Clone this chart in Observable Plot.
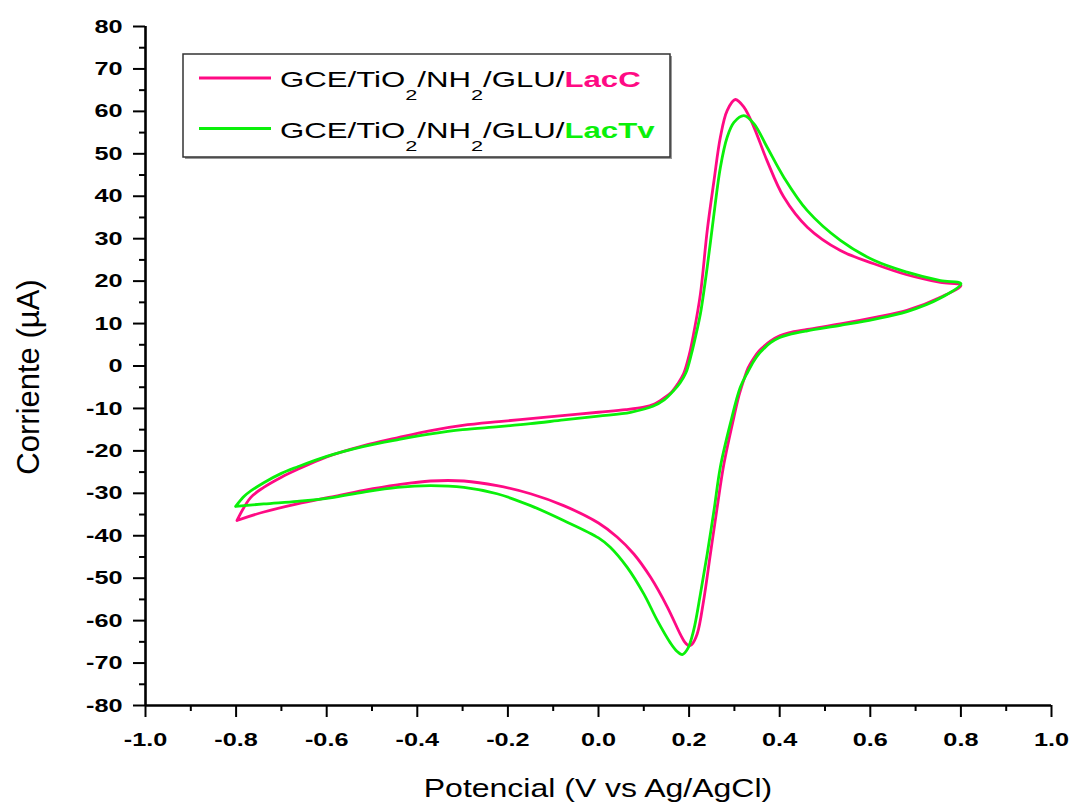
<!DOCTYPE html>
<html><head><meta charset="utf-8">
<script src="https://cdn.jsdelivr.net/npm/d3@7"></script>
<script src="https://cdn.jsdelivr.net/npm/@observablehq/plot@0.6"></script>
<style>
html,body{margin:0;padding:0;background:#fff;}
#chart{position:relative;width:1069px;height:804px;overflow:hidden;}
</style></head><body><div id="chart"></div>
<script>
// ---- data ----
const potLacC = [-0.798,-0.768,-0.739,-0.70,-0.665,-0.60,-0.52,-0.44,-0.37,-0.30,
  -0.22,-0.15,-0.08,0.0,0.06,0.10,0.122,0.145,0.16,0.175,
  0.188,0.20,0.21,0.225,0.24,0.255,0.269,0.284,0.302,0.321,
  0.343,0.372,0.409,0.461,0.534,0.608,0.681,0.755,0.80,
  0.755,0.681,0.608,0.534,0.461,0.42,0.40,0.38,0.365,0.355,
  0.343,0.33,0.321,0.31,0.299,0.277,0.262,0.247,0.232,0.218,
  0.206,0.199,0.19,0.181,0.152,0.115,0.078,0.041,0.0,-0.077,
  -0.15,-0.224,-0.297,-0.371,-0.444,-0.518,-0.592,-0.665,-0.739,-0.798];
const curLacC = [-36.4,-31.0,-28.6,-26.2,-24.4,-21.4,-18.8,-16.8,-15.2,-14.0,
  -13.1,-12.4,-11.7,-10.9,-10.3,-9.7,-9.0,-7.5,-6.3,-4.2,
  -1.8,2.5,7.6,17.0,31.9,43.7,53.9,60.2,62.8,61.0,
  56.3,48.4,39.8,32.7,27.2,24.1,21.5,19.7,19.0,
  16.2,13.1,11.4,9.9,8.6,7.8,7.1,5.9,4.6,3.6,
  1.9,-0.5,-3.2,-7.0,-12.0,-23.0,-33.3,-44.3,-55.3,-63.1,
  -65.6,-65.9,-65.0,-63.3,-56.8,-49.8,-44.3,-40.3,-37.0,-32.9,
  -30.1,-28.2,-27.1,-27.1,-28.0,-29.3,-30.9,-32.5,-34.4,-36.4];
const potLacTv = [-0.801,-0.785,-0.776,-0.739,-0.70,-0.665,-0.60,-0.52,-0.44,-0.37,
  -0.30,-0.22,-0.15,-0.077,0.0,0.071,0.12,0.145,0.166,0.18,
  0.193,0.205,0.216,0.225,0.24,0.255,0.269,0.284,0.299,0.321,
  0.343,0.372,0.409,0.461,0.534,0.608,0.681,0.755,0.80,
  0.755,0.681,0.608,0.534,0.461,0.42,0.40,0.38,0.365,0.355,
  0.343,0.33,0.313,0.291,0.269,0.255,0.24,0.225,0.21,0.197,
  0.185,0.173,0.159,0.13,0.10,0.063,0.026,0.0,-0.077,-0.15,
  -0.224,-0.297,-0.371,-0.444,-0.518,-0.592,-0.665,-0.739,-0.801];
const curLacTv = [-33.1,-31.0,-30.1,-27.5,-25.3,-23.8,-21.3,-19.0,-17.3,-16.0,
  -15.0,-14.3,-13.6,-12.7,-11.8,-10.9,-9.5,-8.0,-5.8,-4.0,
  -1.6,2.8,7.8,12.3,23.3,35.9,46.8,53.9,57.4,59.0,
  57.1,51.6,44.5,36.6,29.6,24.9,22.1,20.1,19.4,
  16.0,12.8,11.0,9.6,8.3,7.4,6.7,5.5,4.1,3.0,
  1.2,-1.3,-5.0,-13.6,-23.8,-34.0,-44.3,-53.7,-62.3,-66.6,
  -68.0,-67.2,-65.3,-60.0,-53.7,-47.4,-42.7,-40.5,-36.4,-32.9,
  -30.1,-28.6,-28.2,-28.6,-29.7,-31.1,-31.9,-32.5,-33.1];

const seriesNames = ["LacC", "LacTv"];
const seriesColors = ["#ff0a84", "#0af00a"];
const xTicks = [-1.0,-0.8,-0.6,-0.4,-0.2,0.0,0.2,0.4,0.6,0.8,1.0];
const xMinorTicks = [-0.9,-0.7,-0.5,-0.3,-0.1,0.1,0.3,0.5,0.7,0.9];
const yTicks = [-80,-70,-60,-50,-40,-30,-20,-10,0,10,20,30,40,50,60,70,80];
const yMinorTicks = [-75,-65,-55,-45,-35,-25,-15,-5,5,15,25,35,45,55,65,75];
const xTitle = "Potencial (V vs Ag/AgCl)";
const yTitle = "Corriente (\u00b5A)";
const legendParts = ["GCE/TiO", "2", "/NH", "2", "/GLU/"];

// ---- build table ----
const rows = [];
potLacC.forEach((p, i) => rows.push({series: "LacC", p, c: curLacC[i]}));
potLacTv.forEach((p, i) => rows.push({series: "LacTv", p, c: curLacTv[i]}));

const chart = Plot.plot({
  width: 1069, height: 804,
  marginLeft: 145, marginRight: 18, marginTop: 26, marginBottom: 99,
  style: {fontFamily: "'Liberation Sans', Arial, sans-serif", fontSize: "19px", fontWeight: "bold", color: "#000", background: "#fff", overflow: "visible"},
  x: {domain: [-1, 1], label: null},
  y: {domain: [-80, 80], label: null},
  color: {domain: seriesNames, range: seriesColors},
  marks: [
    Plot.axisX({ticks: xMinorTicks, tickSize: 6, tickFormat: () => "", strokeWidth: 2, label: null}),
    Plot.axisX({ticks: xTicks, tickSize: 12, tickPadding: 15, tickFormat: d => d.toFixed(1), strokeWidth: 2, label: null}),
    Plot.axisY({ticks: yMinorTicks, tickSize: 6, tickFormat: () => "", strokeWidth: 2, label: null}),
    Plot.axisY({ticks: yTicks, tickSize: 12, tickPadding: 11, tickFormat: d => d.toFixed(0), strokeWidth: 2, label: null}),
    Plot.ruleX([-1], {strokeWidth: 2.6}),
    Plot.ruleY([-80], {strokeWidth: 2.6}),
    Plot.line(rows, {x: "p", y: "c", z: "series", stroke: "series", strokeWidth: 2.8, curve: "catmull-rom"})
  ]
});
document.getElementById("chart").appendChild(chart);

const NS = "http://www.w3.org/2000/svg";
function stretchText(t, s, mode) {
  const g = document.createElementNS(NS, "g");
  t.parentNode.insertBefore(g, t);
  g.appendChild(t);
  const b = g.getBBox();
  const m = mode || getComputedStyle(t).textAnchor;
  const ax = m === "end" ? b.x + b.width : m === "middle" ? b.x + b.width / 2 : b.x;
  g.setAttribute("transform", `translate(${ax},0) scale(${s},1) translate(${-ax},0)`);
}
// stretch tick labels (reference text is drawn wide)
Array.from(chart.querySelectorAll("text")).forEach(t => stretchText(t, 1.33));

const svg = d3.select(chart);
// axis titles
const xt = svg.append("text").attr("x", 598).attr("y", 797)
  .attr("text-anchor", "middle").attr("font-size", 25).attr("font-weight", "normal").text(xTitle);
stretchText(xt.node(), 1.28, "middle");
const yt = svg.append("text").attr("transform", "translate(28,377) rotate(-90)")
  .attr("text-anchor", "middle").attr("dy", "0.35em").attr("font-size", 31).attr("font-weight", "normal").text(yTitle);
stretchText(yt.node(), 1.0, "middle");

// legend
const leg = svg.append("g");
leg.append("rect").attr("x", 185).attr("y", 56).attr("width", 487).attr("height", 103).attr("fill", "#999");
leg.append("rect").attr("x", 183).attr("y", 54).attr("width", 487).attr("height", 103)
  .attr("fill", "#fff").attr("stroke", "#333").attr("stroke-width", 1.5);
const legY = [78, 128.5];
seriesNames.forEach((name, i) => {
  leg.append("line").attr("x1", 199).attr("x2", 271).attr("y1", legY[i]).attr("y2", legY[i])
    .attr("stroke", seriesColors[i]).attr("stroke-width", 2.8);
  const t = leg.append("text").attr("x", 280).attr("y", legY[i] + 9.5).attr("text-anchor", "start")
    .attr("font-size", 21.5).attr("font-weight", "normal").attr("fill", "#000");
  legendParts.forEach((part, k) => {
    const sub = k % 2 === 1;
    t.append("tspan").attr("font-size", sub ? 15 : 21.5).attr("dy", sub ? 13 : (k > 0 ? -13 : 0)).text(part);
  });
  t.append("tspan").attr("font-weight", "bold").attr("fill", seriesColors[i]).text(name);
  stretchText(t.node(), 1.45, "start");
});
</script>
</body></html>
